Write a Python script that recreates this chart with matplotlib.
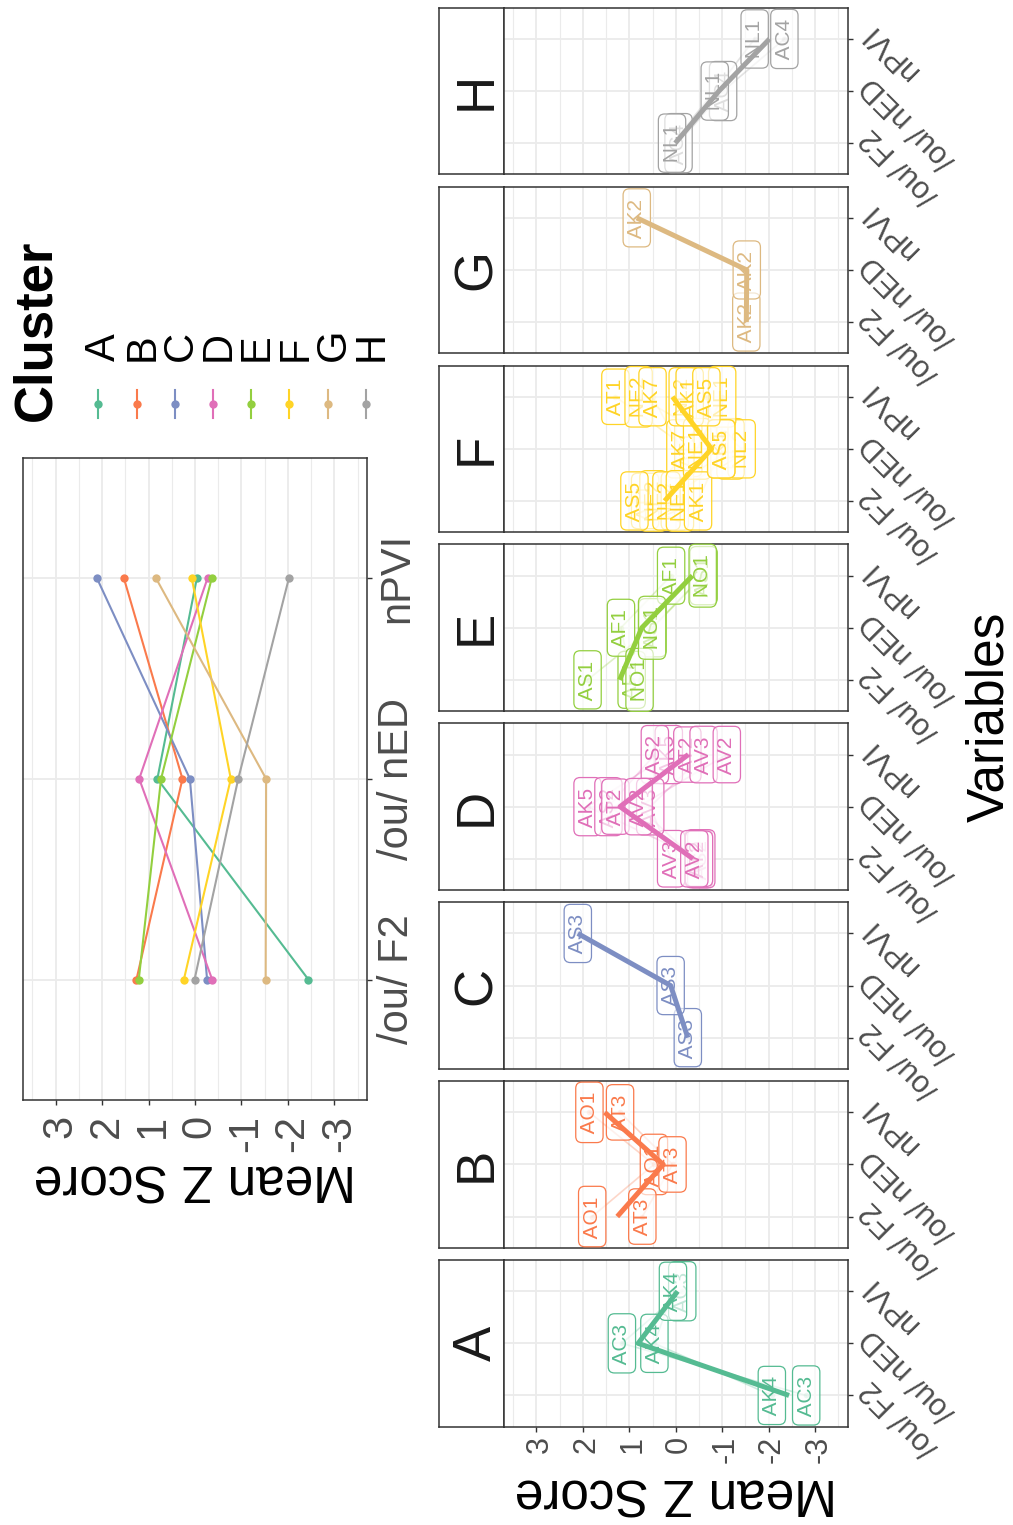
import numpy as np
import matplotlib
matplotlib.use("Agg")
import matplotlib.pyplot as plt

plt.rcParams["font.family"] = ["Liberation Sans", "DejaVu Sans"]

W, H, DPI = 1013, 1525, 100
PX = 72.0 / DPI  # one pixel expressed in points

# ---------------------------------------------------------------- data
variables = ["/ou/ F2", "/ou/ nED", "nPVI"]
clusters = ["A", "B", "C", "D", "E", "F", "G", "H"]
cluster_colors = ["#55BB92", "#FA7A4C", "#7D8EC3", "#E06FB8",
                  "#93CF3F", "#FFD426", "#DDB981", "#A3A3A3"]

# cluster centroids: mean z score per variable
centroid_f2 = [-2.44, 1.26, -0.26, -0.37, 1.21, 0.24, -1.52, 0.01]
centroid_ned = [0.81, 0.27, 0.11, 1.20, 0.73, -0.77, -1.53, -0.93]
centroid_npvi = [-0.04, 1.53, 2.11, -0.27, -0.36, 0.07, 0.84, -2.02]

z_ticks = [3, 2, 1, 0, -1, -2, -3]
z_tick_labels = ["3", "2", "1", "0", "-1", "-2", "-3"]

# members of each cluster and their z scores
member_names = {
    "A": ["AC3", "AK4"],
    "B": ["AO1", "AT3"],
    "C": ["AS3"],
    "D": ["AK5", "AS2", "AT2", "AV3", "AV2"],
    "E": ["AS1", "AF1", "NO1"],
    "F": ["AT1", "NE2", "AK7", "NL2", "NE1", "AK1", "AS5"],
    "G": ["AK2"],
    "H": ["AC4", "NL1"],
}
member_f2 = {
    "A": [-2.81, -2.07],
    "B": [1.80, 0.72],
    "C": [-0.26],
    "D": [-0.50, -0.55, -0.50, 0.10, -0.40],
    "E": [1.90, 0.95, 0.78],
    "F": [0.66, 0.48, 0.02, 0.20, -0.09, -0.48, 0.89],
    "G": [-1.52],
    "H": [-0.06, 0.08],
}
member_ned = {
    "A": [1.16, 0.46],
    "B": [0.47, 0.07],
    "C": [0.11],
    "D": [1.90, 1.45, 1.30, 0.55, 0.80],
    "E": [0.50, 1.18, 0.51],
    "F": [-0.27, -1.18, -0.10, -1.42, -0.46, -0.98, -0.98],
    "G": [-1.53],
    "H": [-1.02, -0.84],
}
member_npvi = {
    "A": [-0.14, 0.06],
    "B": [1.86, 1.20],
    "C": [2.11],
    "D": [0.15, 0.45, -0.25, -0.60, -1.10],
    "E": [-0.60, 0.10, -0.58],
    "F": [1.30, 0.80, 0.50, -0.15, -1.00, -0.30, -0.66],
    "G": [0.84],
    "H": [-2.34, -1.70],
}

# ---------------------------------------------------------------- figure
GRID = "#EBEBEB"
FRAME = "#333333"
TICK_TEXT = "#4D4D4D"
levels = np.arange(1, len(variables) + 1)

fig = plt.figure(figsize=(W / DPI, H / DPI), dpi=DPI)
fig.patch.set_facecolor("white")


def px_axes(x0, y0, x1, y1):
    """Axes placed by pixel box (y measured from the top)."""
    return fig.add_axes([x0 / W, 1 - y1 / H, (x1 - x0) / W, (y1 - y0) / H])


overlay = px_axes(0, 0, W, H)
overlay.set_xlim(0, W)
overlay.set_ylim(H, 0)
overlay.axis("off")


def style_panel(ax):
    ax.set_xlim(3.7, -3.7)
    ax.set_ylim(0.4, 3.6)
    ax.set_xticks(z_ticks)
    ax.set_xticks(np.arange(-3.5, 3.6, 1.0), minor=True)
    ax.set_yticks(levels)
    ax.set_axisbelow(True)
    ax.grid(which="major", color=GRID, lw=1.3)
    ax.grid(which="minor", axis="x", color=GRID, lw=0.8)
    for sp in ax.spines.values():
        sp.set_color(FRAME)
        sp.set_linewidth(1.1)
    ax.tick_params(which="major", length=5 * PX, width=1.4 * PX, color=FRAME)
    ax.tick_params(which="minor", length=0)
    ax.yaxis.tick_right()
    ax.set_facecolor("white")


# ------------------------------------------------ all clusters together
ax0 = px_axes(23, 457.7, 367, 1100)
style_panel(ax0)
ax0.set_xticklabels(z_tick_labels)
ax0.set_yticklabels(variables)
ax0.tick_params(axis="x", labelsize=30, labelcolor=TICK_TEXT, pad=10 * PX)
ax0.tick_params(axis="y", labelsize=30, labelcolor=TICK_TEXT, pad=36 * PX)
for t in ax0.get_xticklabels():
    t.set(rotation=90, rotation_mode="anchor", ha="right", va="center_baseline")
for t in ax0.get_yticklabels():
    t.set(rotation=90, rotation_mode="anchor", ha="center", va="baseline")

for k, color in enumerate(cluster_colors):
    ax0.plot([centroid_f2[k], centroid_ned[k], centroid_npvi[k]], levels,
             color=color, lw=1.5, marker="o", ms=6, mec="none", zorder=3)

overlay.text(195.3, 1183.4, "Mean Z Score", rotation=180, rotation_mode="anchor",
             ha="center", va="center_baseline", fontsize=37, color="black")

# ------------------------------------------------ legend
key_x = [98.3 + 38.2 * k for k in range(len(clusters))]
overlay.text(31, 421, "Cluster", rotation=90, rotation_mode="anchor",
             ha="left", va="center_baseline", fontsize=38, fontweight="bold",
             color="black")
for x, name, color in zip(key_x, clusters, cluster_colors):
    overlay.text(x + 1.5, 361, name, rotation=90, rotation_mode="anchor",
                 ha="left", va="center_baseline", fontsize=30, color="black")
    overlay.plot([x, x], [390, 418], color=color, lw=1.5)
    overlay.plot([x], [404], marker="o", ms=6, color=color, mec="none")

# ------------------------------------------------ one panel per cluster
for i, (name, color) in enumerate(zip(clusters, cluster_colors)):
    top = 1260 - 178.9 * i
    bot = top + 166.7

    strip = px_axes(438.6, top, 504, bot)
    strip.set_xticks([])
    strip.set_yticks([])
    strip.set_facecolor("white")
    for sp in strip.spines.values():
        sp.set_color(FRAME)
        sp.set_linewidth(1.1)
    strip.text(0.5, 0.5, name, transform=strip.transAxes, rotation=90,
               rotation_mode="anchor", ha="center", va="center_baseline",
               fontsize=38, color="#1A1A1A")

    ax = px_axes(504, top, 847.5, bot)
    style_panel(ax)
    ax.set_yticklabels(variables)
    ax.tick_params(axis="y", labelsize=22, labelcolor=TICK_TEXT, pad=3 * PX)
    for t in ax.get_yticklabels():
        t.set(rotation=135, rotation_mode="anchor", ha="right", va="top")
    if i == 0:
        ax.set_xticklabels(z_tick_labels)
        ax.tick_params(axis="x", labelsize=22, labelcolor=TICK_TEXT, pad=4 * PX)
        for t in ax.get_xticklabels():
            t.set(rotation=90, rotation_mode="anchor", ha="right",
                  va="center_baseline")
    else:
        ax.tick_params(axis="x", which="major", length=0, labelbottom=False)

    rows = list(zip(member_names[name], member_f2[name],
                    member_ned[name], member_npvi[name]))
    # individual members: faint lines and points
    for lab, f2, ned, npvi in rows:
        ax.plot([f2, ned, npvi], levels, color=color, lw=1.2, alpha=0.3,
                marker="o", ms=4, mec="none", zorder=2)
    # member labels
    for lab, f2, ned, npvi in rows:
        for v, lev in zip((f2, ned, npvi), levels):
            ax.text(v, lev, f" {lab} ", rotation=90, ha="center", va="center",
                    fontsize=15, color=color, zorder=3,
                    bbox=dict(boxstyle="round,pad=0.2,rounding_size=0.3",
                              fc=(1, 1, 1, 0.65), ec=color, lw=0.9))
    # cluster centroid
    ax.plot([centroid_f2[i], centroid_ned[i], centroid_npvi[i]], levels,
            color=color, lw=3.6, zorder=4, solid_capstyle="butt")

overlay.text(675.8, 1498, "Mean Z Score", rotation=180, rotation_mode="anchor",
             ha="center", va="center_baseline", fontsize=37, color="black")
overlay.text(984, 717, "Variables", rotation=90, rotation_mode="anchor",
             ha="center", va="center_baseline", fontsize=37, color="black")

fig.savefig("out.png", dpi=DPI, facecolor="white")
